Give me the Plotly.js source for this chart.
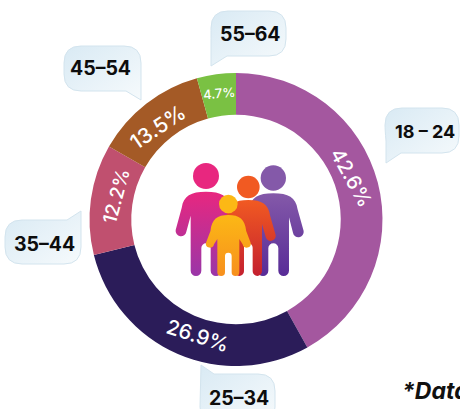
<!DOCTYPE html>
<html>
<head>
<meta charset="utf-8">
<script src="https://cdn.plot.ly/plotly-3.0.1.min.js"></script>
<style>html,body{margin:0;padding:0;background:#fff;overflow:hidden}#c{width:460px;height:409px}</style>
</head>
<body>
<div id="c"></div>
<script>
const categories = ['18 – 24','25–34','35–44','45–54','55–64'];
// sweep of each slice as measured on the picture (the printed labels differ slightly)
const drawnShares = [41.9,29.2,12.2,12.4,4.3];
const shareLabels = ['42.6%','26.9%','12.2%','13.5%','4.7%'];
const sliceColors = ['#a4579f','#2b1c59','#c0506f','#a45a26','#7ac143'];
const labelSizes = [20,20.5,19,21,13];
const labelX = [351,198,116,157,219];
const labelY = [177,335,196,127,93];
const labelAngles = [61,18,-75,-34,-5];
const bubbleSizes = [18,19.5,19.5,19.5,19.5];
const bubbleCentersX = [425,239,44,100,251];
const bubbleCentersY = [131,398,244,68,34];
const W = 460, H = 409;

function bubble(x0,y0,x1,y1,tail,t,u){
  const r=17;
  let d='';
  if(tail==='bl'){
    d=`M${x0+r} ${y0}H${x1-r}Q${x1} ${y0} ${x1} ${y0+r}V${y1-r}Q${x1} ${y1} ${x1-r} ${y1}H${x0+16}L${t} ${u}V${y1-12}Q${x0} ${y0+r+4} ${x0} ${y0+r}Q${x0} ${y0} ${x0+r} ${y0}Z`;
  } else if(tail==='br'){
    d=`M${x0+r} ${y0}H${x1-r}Q${x1} ${y0} ${x1} ${y0+r}V${u}L${x1-15} ${y1}H${x0+r}Q${x0} ${y1} ${x0} ${y1-r}V${y0+r}Q${x0} ${y0} ${x0+r} ${y0}Z`;
  } else if(tail==='tr'){
    d=`M${x0+r} ${y0}H${t-14}L${t} ${u}V${y1-r}Q${t} ${y1} ${t-r} ${y1}H${x0+r}Q${x0} ${y1} ${x0} ${y1-r}V${y0+r}Q${x0} ${y0} ${x0+r} ${y0}Z`;
  } else {
    d=`M${t} ${u}L${x0+14} ${y0}H${x1-r}Q${x1} ${y0} ${x1} ${y0+r}V${y1-r}Q${x1} ${y1} ${x1-r} ${y1}H${x0+r}Q${x0} ${y1} ${x0} ${y1-r}Z`;
  }
  return `<path d="${d}" fill="url(#bub)" stroke="#d3e4ee" stroke-width="1"/>`;
}

function person(cx,sy,h,armB,armW,legO,legI,bottom,gapTop,fill){
  const a=armW/2, lw=(legO-legI)/2, gr=legI;
  const shoulderY=sy+48, hipY=sy+72;
  const d=`M${cx} ${sy}
  C${cx-0.5*h} ${sy} ${cx-0.74*h} ${sy+12} ${cx-0.8*h} ${shoulderY}
  L${cx-h} ${armB-a-2}
  A${a} ${a} 0 0 0 ${cx-h+armW} ${armB-a+3}
  L${cx-legO} ${hipY}
  V${bottom-lw}
  A${lw} ${lw} 0 0 0 ${cx-legI} ${bottom-lw}
  V${gapTop+gr}
  A${gr} ${gr} 0 0 1 ${cx+legI} ${gapTop+gr}
  V${bottom-lw}
  A${lw} ${lw} 0 0 0 ${cx+legO} ${bottom-lw}
  V${hipY}
  L${cx+h-armW} ${armB-a+3}
  A${a} ${a} 0 0 0 ${cx+h} ${armB-a-2}
  L${cx+0.8*h} ${shoulderY}
  C${cx+0.74*h} ${sy+12} ${cx+0.5*h} ${sy} ${cx} ${sy}Z`;
  return `<path d="${d}" fill="${fill}"/>`;
}

const art = `<svg xmlns="http://www.w3.org/2000/svg" width="${W}" height="${H}" viewBox="0 0 ${W} ${H}">
<defs>
<linearGradient id="bub" x1="0" y1="0" x2="1" y2="1"><stop offset="0" stop-color="#d9eaf4"/><stop offset="1" stop-color="#f6fafc"/></linearGradient>
<linearGradient id="gL" x1="0" y1="0" x2="0" y2="1"><stop offset="0" stop-color="#e8277f"/><stop offset="1" stop-color="#9a36a8"/></linearGradient>
<linearGradient id="gR" x1="0" y1="0" x2="0" y2="1"><stop offset="0" stop-color="#8459a9"/><stop offset="1" stop-color="#582c97"/></linearGradient>
<linearGradient id="gM" x1="0" y1="0" x2="0" y2="1"><stop offset="0" stop-color="#f15a22"/><stop offset="1" stop-color="#c4202f"/></linearGradient>
<linearGradient id="gC" x1="0" y1="0" x2="0" y2="1"><stop offset="0" stop-color="#fcb815"/><stop offset="1" stop-color="#f7901e"/></linearGradient>
</defs>
${bubble(385,108,459,153,'bl',386,163)}
${bubble(200,374,275,424,'tl',201,365)}
${bubble(5,220,82,264,'tr',81,211)}
${bubble(64,46,141,91,'br',140,100)}
${bubble(211,11,286,56,'bl',211,66)}
<g transform="translate(140 140) scale(0.3333)">
<circle cx="198" cy="108" r="39" fill="#e8277f"/>
${person(198,155,91,288,32,46,14,408,310,'url(#gL)')}
<circle cx="400" cy="114" r="38" fill="#8459a9"/>
${person(400,160,91,291,32,47,15,408,310,'url(#gR)')}
<circle cx="325" cy="141" r="34" fill="#f15a22"/>
${person(325,180,82,302,30,41,13,408,310,'url(#gM)')}
<circle cx="265" cy="192" r="28" fill="#fcb815"/>
${person(265,225,67,322,24,33,10,408,338,'url(#gC)')}
</g>
</svg>`;

const cx=236, cy=219.5, R=146.5;
const data=[{
  type:'pie',
  labels:categories,
  values:drawnShares,
  sort:false,
  direction:'clockwise',
  rotation:0,
  hole:0.715,
  marker:{colors:sliceColors,line:{width:0}},
  textinfo:'none',
  showlegend:false,
  domain:{x:[(cx-R)/W,(cx+R)/W],y:[1-(cy+R)/H,1-(cy-R)/H]}
}];

const annotations=categories.map((c,i)=>({
  xref:'paper',yref:'paper',x:bubbleCentersX[i]/W,y:1-bubbleCentersY[i]/H,
  text:c,showarrow:false,xanchor:'center',yanchor:'middle',
  font:{family:'Inter, Roboto, sans-serif',size:bubbleSizes[i],color:'#0d0d0d',weight:700}
}));
shareLabels.forEach((t,i)=>annotations.push({
  xref:'paper',yref:'paper',x:labelX[i]/W,y:1-labelY[i]/H,
  text:t,showarrow:false,xanchor:'center',yanchor:'middle',textangle:labelAngles[i],
  font:{family:'Inter, Roboto, sans-serif',size:labelSizes[i],color:'#ffffff',weight:500}
}));
annotations.push({
  xref:'paper',yref:'paper',x:400/W,y:1-391/H,text:'<b><i>*Data</i></b>',showarrow:false,
  xanchor:'left',yanchor:'middle',font:{family:'Inter, Roboto, sans-serif',size:23,color:'#111111'}
});

const layout={
  width:W,height:H,margin:{l:0,r:0,t:0,b:0},
  paper_bgcolor:'rgba(0,0,0,0)',plot_bgcolor:'rgba(0,0,0,0)',
  showlegend:false,
  annotations:annotations,
  images:[{
    source:'data:image/svg+xml;charset=utf-8,'+encodeURIComponent(art),
    xref:'paper',yref:'paper',x:0,y:1,sizex:1,sizey:1,xanchor:'left',yanchor:'top',
    sizing:'stretch',layer:'below'
  }]
};
Plotly.newPlot('c',data,layout,{displayModeBar:false,staticPlot:true});
</script>
</body>
</html>
